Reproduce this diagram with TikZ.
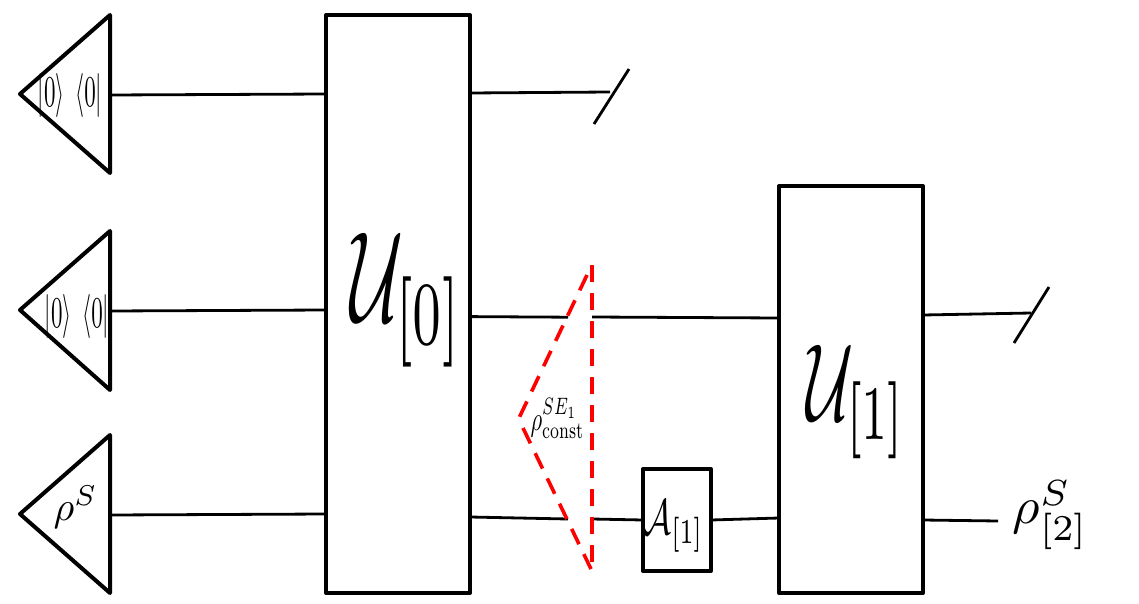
\documentclass[tikz,border=0pt]{standalone}
\usepackage{amsmath}
\begin{document}
\begin{tikzpicture}[x=1pt,y=-1pt,
  boxn/.style={draw=black,line width=4pt,inner sep=0pt,outer sep=0pt,line join=round},
  tri/.style={draw=black,line width=4pt,line join=round,line cap=round},
  wire/.style={draw=black,line width=2.8pt},
  lab/.style={inner sep=0pt,text=black},
  redd/.style={draw=red,line width=3.6pt,dash pattern=on 17pt off 11pt}]
\useasboundingbox (0,0) rectangle (1139,604);
% triangles
\draw[tri] (20,94) -- (110,15) -- (110,173) -- cycle;
\draw[tri] (20,310) -- (110,231) -- (110,390) -- cycle;
\draw[tri] (20,514) -- (110,435) -- (110,593) -- cycle;
\coordinate (t1) at (110,95);
\coordinate (t2) at (110,311);
\coordinate (t3) at (110,515);
% boxes
\node[boxn,minimum width=144pt,minimum height=578pt,anchor=north west] (U0) at (326,15) {};
\node[boxn,minimum width=144pt,minimum height=407pt,anchor=north west] (U1) at (779,186) {};
\node[boxn,minimum width=68pt,minimum height=102pt,anchor=north west] (A1) at (643,469) {};
% free wire ends
\coordinate (a0) at (326,94);
\coordinate (a1) at (326,310);
\coordinate (a2) at (326,514);
\coordinate (b0) at (470,93);
\coordinate (b0e) at (610,92);
\coordinate (s0a) at (594,124);
\coordinate (s0b) at (629,69);
\coordinate (b1) at (470,316.6);
\coordinate (b1e) at (568,317.2);
\coordinate (c1) at (592,317);
\coordinate (d1) at (779,318);
\coordinate (b2) at (470,517);
\coordinate (b2e) at (568,519);
\coordinate (c2) at (592,519);
\coordinate (e2) at (643,520);
\coordinate (f2) at (711,520);
\coordinate (d2) at (779,518);
\coordinate (g1) at (923,315);
\coordinate (g1e) at (1031,313);
\coordinate (s1a) at (1014,343);
\coordinate (s1b) at (1049,287);
\coordinate (g2) at (923,520);
\coordinate (g2e) at (998,521);
\draw[wire] (t1) -- (a0);
\draw[wire] (t2) -- (a1);
\draw[wire] (t3) -- (a2);
\draw[wire] (b0) -- (b0e);
\draw[wire] (s0a) -- (s0b);
\draw[wire] (b1) -- (b1e);
\draw[wire] (c1) -- (d1);
\draw[wire] (b2) -- (b2e);
\draw[wire] (c2) -- (e2);
\draw[wire] (f2) -- (d2);
\draw[wire] (g1) -- (g1e);
\draw[wire] (s1a) -- (s1b);
\draw[wire] (g2) -- (g2e);
% red dashed triangle
\coordinate (r1) at (592,265);
\coordinate (r2) at (592,570);
\coordinate (r3) at (519,418);
\coordinate (r4) at (523,428);
\draw[redd] (r1) -- (r2);
\draw[redd] (587,275) -- (r3);
\draw[redd] (r4) -- (591,569);
% labels
\node[lab,xscale=2.3,yscale=4.4] (l1) at (70,95.5) {$\left|0\right\rangle\hspace{3pt}\left\langle 0\right|$};
\node[lab,xscale=2.3,yscale=4.4] (l2) at (77,316.5) {$\left|0\right\rangle\hspace{3pt}\left\langle 0\right|$};
\node[lab,xscale=4,yscale=4.1] (l3) at (75.5,507.5) {$\rho^{S}$};
\node[lab,xscale=7.3,yscale=12.9] (l4) at (406.5,300) {$\mathcal{U}_{[0]}$};
\node[lab,xscale=6.5,yscale=11] (l5) at (856,402) {$\mathcal{U}_{[1]}$};
\node[lab,xscale=3.5,yscale=5] (l6) at (673.5,526.5) {$\mathcal{A}_{[1]}$};
\node[lab,xscale=2.25,yscale=3.4] (l7) at (557.5,418.5) {$\rho^{SE_1}_{\mathrm{const}}$};
\node[lab,xscale=5.3,yscale=5.2] (l8) at (1050.5,515) {$\rho^{S}_{[2]}$};
\end{tikzpicture}
\end{document}
